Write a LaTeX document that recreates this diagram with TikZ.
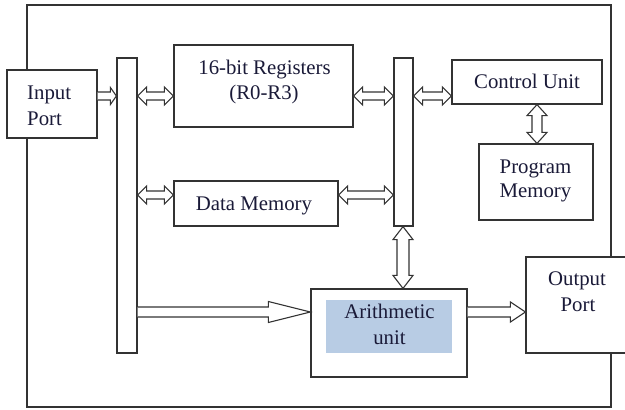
\documentclass[tikz,border=0pt]{standalone}
\usepackage{fontspec}
\setmainfont{Liberation Serif}
\usetikzlibrary{calc}
\definecolor{linec}{HTML}{333333}
\definecolor{txtc}{HTML}{1A1A38}
\definecolor{alublue}{HTML}{B8CCE4}
\tikzset{
  boxst/.style={draw=linec, line width=1.2pt, fill=white, rectangle, inner sep=0pt},
  lbl/.style={text=txtc, font=\fontsize{20.8}{25}\selectfont, inner sep=0pt},
  blk/.style={draw=linec, line width=1.1pt, fill=white, line join=miter},
}
% horizontal double-headed block arrow: left anchor, right anchor, y, shaft half, head half, head length
\newcommand\dblH[6]{%
  \draw[blk] let \p1=(#1), \p2=(#2) in
   (\x1,#3) -- (\x1+#6,#3+#5) -- (\x1+#6,#3+#4) -- (\x2-#6,#3+#4) -- (\x2-#6,#3+#5)
   -- (\x2,#3) -- (\x2-#6,#3-#5) -- (\x2-#6,#3-#4) -- (\x1+#6,#3-#4) -- (\x1+#6,#3-#5) -- cycle;}
% horizontal single-headed block arrow (head at right end)
\newcommand\sglH[6]{%
  \draw[blk] let \p1=(#1), \p2=(#2) in
   (\x1,#3+#4) -- (\x2-#6,#3+#4) -- (\x2-#6,#3+#5)
   -- (\x2,#3) -- (\x2-#6,#3-#5) -- (\x2-#6,#3-#4) -- (\x1,#3-#4);}
% vertical double-headed block arrow: top anchor, bottom anchor, x, shaft half, head half, head length
\newcommand\dblV[6]{%
  \draw[blk] let \p1=(#1), \p2=(#2) in
   (#3,\y1) -- (#3+#5,\y1-#6) -- (#3+#4,\y1-#6) -- (#3+#4,\y2+#6) -- (#3+#5,\y2+#6)
   -- (#3,\y2) -- (#3-#5,\y2+#6) -- (#3-#4,\y2+#6) -- (#3-#4,\y1-#6) -- (#3-#5,\y1-#6) -- cycle;}
\begin{document}
\begin{tikzpicture}[x=1pt,y=1pt]
\useasboundingbox (0,0) rectangle (625,-410);
% outer frame
\draw[draw=linec, line width=1.2pt] (27,-5) rectangle (611,-407);
% boxes
\node[boxst, minimum width=90pt, minimum height=68pt] (inp) at (52,-104) {};
\node[boxst, minimum width=20pt, minimum height=295pt] (lbus) at (127,-205.5) {};
\node[boxst, minimum width=179pt, minimum height=82pt] (reg) at (263.5,-86) {};
\node[boxst, minimum width=164pt, minimum height=45pt] (dmem) at (256,-203.5) {};
\node[boxst, minimum width=19pt, minimum height=168pt] (rbus) at (403.5,-142) {};
\node[boxst, minimum width=150pt, minimum height=44pt] (cu) at (527,-82) {};
\node[boxst, minimum width=114pt, minimum height=76pt] (pm) at (536,-182) {};
\node[boxst, minimum width=156pt, minimum height=88pt] (alu) at (389,-333) {};
\node[fill=alublue, inner sep=0pt, minimum width=126pt, minimum height=53pt] (alublue) at (389,-326.5) {};
\node[boxst, minimum width=104pt, minimum height=96pt] (out) at (578,-305) {};
% labels
\node[lbl, anchor=base west] (tin1) at (27,-99) {Input};
\node[lbl, anchor=base west] (tin2) at (27,-125) {Port};
\node[lbl, anchor=base] (treg1) at (264.5,-74) {16-bit Registers};
\node[lbl, anchor=base] (treg2) at (264,-99) {(R0-R3)};
\node[lbl, anchor=base] (tcu) at (527,-88) {Control Unit};
\node[lbl, anchor=base] (tpm1) at (535.5,-173) {Program};
\node[lbl, anchor=base] (tpm2) at (535.5,-197) {Memory};
\node[lbl, anchor=base] (tdm) at (254,-210) {Data Memory};
\node[lbl, anchor=base] (talu1) at (389.5,-318) {Arithmetic};
\node[lbl, anchor=base] (talu2) at (389.5,-344) {unit};
\node[lbl, anchor=base] (tout1) at (577,-285) {Output};
\node[lbl, anchor=base] (tout2) at (578,-311) {Port};
% connectors
\sglH{inp.east}{lbus.west}{-96pt}{4pt}{8.5pt}{6pt}
\dblH{lbus.east}{reg.west}{-96pt}{4pt}{9pt}{9pt}
\dblH{lbus.east}{dmem.west}{-195pt}{4pt}{9pt}{9pt}
\dblH{reg.east}{rbus.west}{-96pt}{4pt}{9pt}{9pt}
\dblH{dmem.east}{rbus.west}{-195pt}{4pt}{9pt}{9pt}
\dblH{rbus.east}{cu.west}{-96pt}{4pt}{9pt}{9pt}
\dblV{cu.south}{pm.north}{537pt}{5pt}{10pt}{11pt}
\dblV{rbus.south}{alu.north}{403pt}{6pt}{10pt}{13pt}
\sglH{lbus.east}{alu.west}{-312pt}{5pt}{10.5pt}{42pt}
\sglH{alu.east}{out.west}{-312pt}{5pt}{10pt}{15pt}
\end{tikzpicture}
\end{document}
